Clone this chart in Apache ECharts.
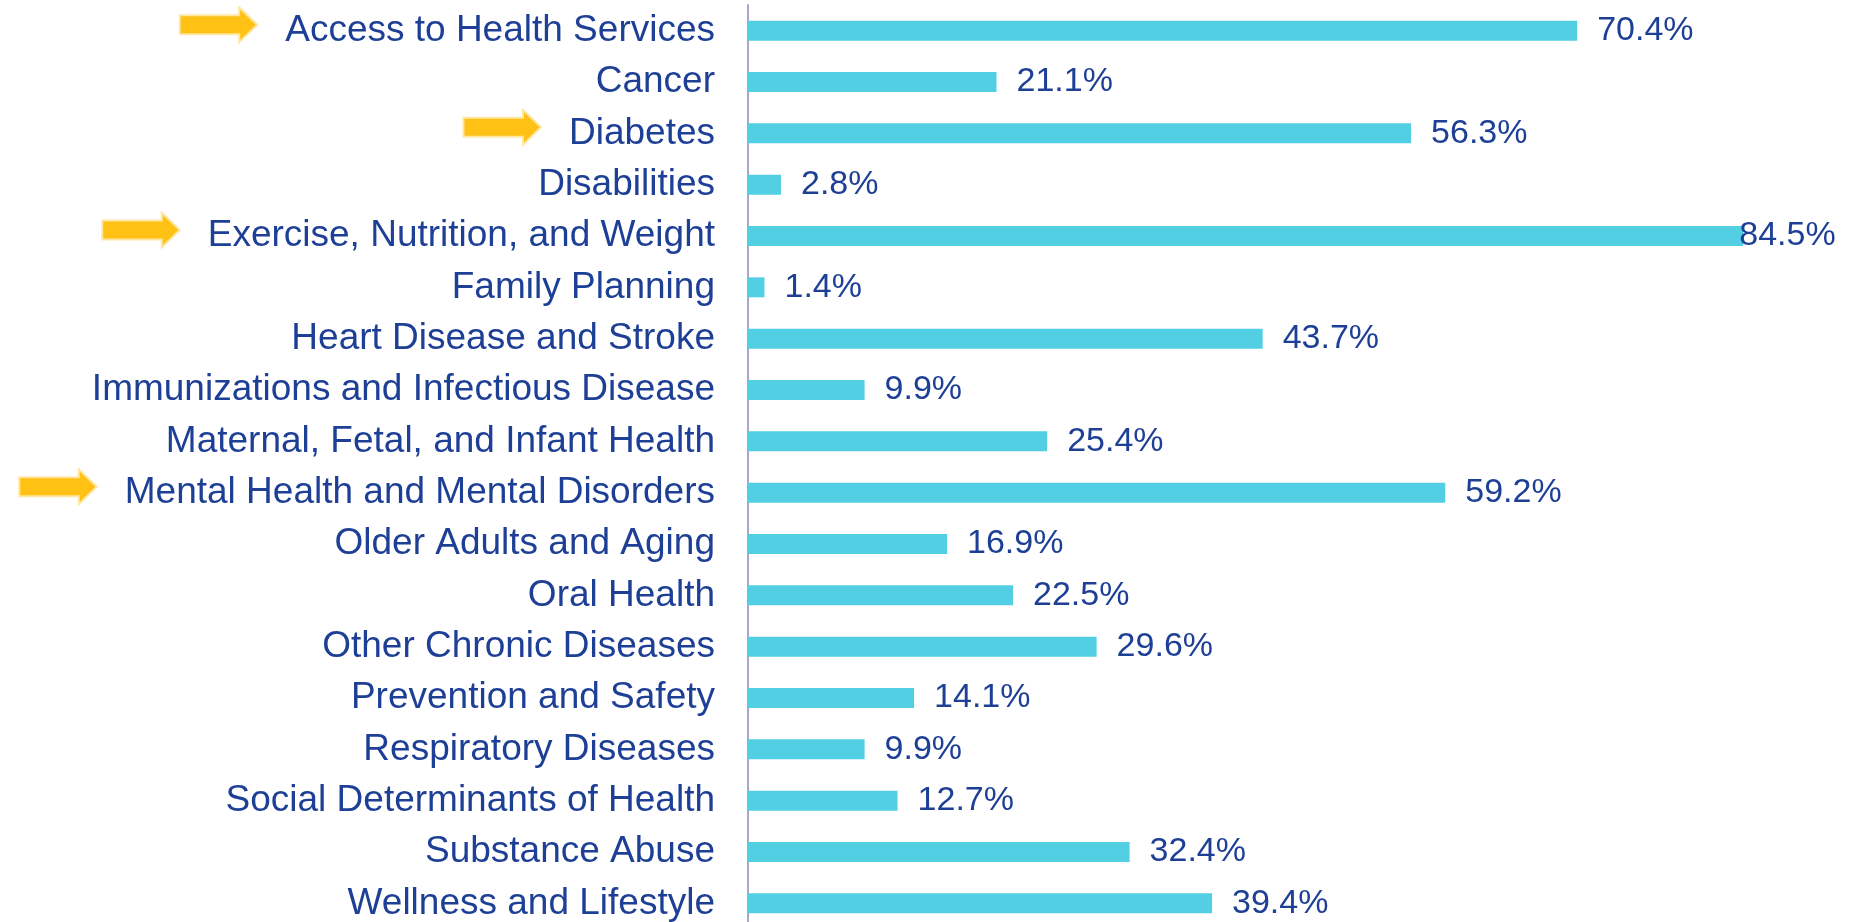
<!DOCTYPE html>
<html>
<head>
<meta charset="utf-8">
<script src="https://cdn.jsdelivr.net/npm/echarts@6/dist/echarts.min.js"></script>
<style>
html,body{margin:0;padding:0;background:#fff;width:1849px;height:922px;overflow:hidden;}
#chart{width:1849px;height:940px;}
</style>
</head>
<body>
<div id="chart"></div>
<script>
const categories = [
  "Access to Health Services",
  "Cancer",
  "Diabetes",
  "Disabilities",
  "Exercise, Nutrition, and Weight",
  "Family Planning",
  "Heart Disease and Stroke",
  "Immunizations and Infectious Disease",
  "Maternal, Fetal, and Infant Health",
  "Mental Health and Mental Disorders",
  "Older Adults and Aging",
  "Oral Health",
  "Other Chronic Diseases",
  "Prevention and Safety",
  "Respiratory Diseases",
  "Social Determinants of Health",
  "Substance Abuse",
  "Wellness and Lifestyle"
];
const values = [70.4, 21.1, 56.3, 2.8, 84.5, 1.4, 43.7, 9.9, 25.4, 59.2, 16.9, 22.5, 29.6, 14.1, 9.9, 12.7, 32.4, 39.4];
const highlighted = [
  "Access to Health Services",
  "Diabetes",
  "Exercise, Nutrition, and Weight",
  "Mental Health and Mental Disorders"
];

const textColor = '#1E3F96';
const barColor = '#53CFE3';
const fontFam = '"Liberation Sans", Arial, sans-serif';

const arrowSvg = '<svg xmlns="http://www.w3.org/2000/svg" width="107" height="50" viewBox="0 0 107 50">' +
  '<polygon points="1.5,9.5 61,9.5 61,1.5 79,19 61,36.5 61,28.5 1.5,28.5" fill="#FFC114" stroke="#FFE7A3" stroke-width="2" stroke-linejoin="miter"/>' +
  '</svg>';
const arrowUrl = 'data:image/svg+xml;charset=utf-8,' + encodeURIComponent(arrowSvg);

const seriesData = values.map(function (v, i) {
  const item = { value: v };
  if (v === 84.5) {
    item.label = { distance: -4 };
  }
  return item;
});

const chart = echarts.init(document.getElementById('chart'));
chart.setOption({
  backgroundColor: '#ffffff',
  animation: false,
  grid: { left: 748, top: 5, height: 924, right: 41, containLabel: false },
  xAxis: {
    type: 'value',
    min: 0,
    max: 90,
    show: false,
    splitLine: { show: false }
  },
  yAxis: {
    type: 'category',
    data: categories,
    inverse: true,
    axisLine: { show: true, lineStyle: { color: '#A7A7CE', width: 2 } },
    axisTick: { show: false },
    axisLabel: {
      margin: 33,
      fontSize: 37,
      fontFamily: fontFam,
      color: textColor,
      formatter: function (name) {
        return highlighted.indexOf(name) >= 0 ? '{arrow|}' + name : name;
      },
      rich: {
        arrow: {
          width: 107,
          height: 50,
          backgroundColor: { image: arrowUrl }
        }
      }
    }
  },
  series: [{
    type: 'bar',
    data: seriesData,
    barWidth: 20,
    itemStyle: { color: barColor },
    label: {
      show: true,
      position: 'right',
      distance: 20,
      padding: [3, 0, 0, 0],
      fontSize: 34,
      fontFamily: fontFam,
      color: textColor,
      formatter: function (p) { return p.value.toFixed(1) + '%'; }
    }
  }]
});
</script>
</body>
</html>
